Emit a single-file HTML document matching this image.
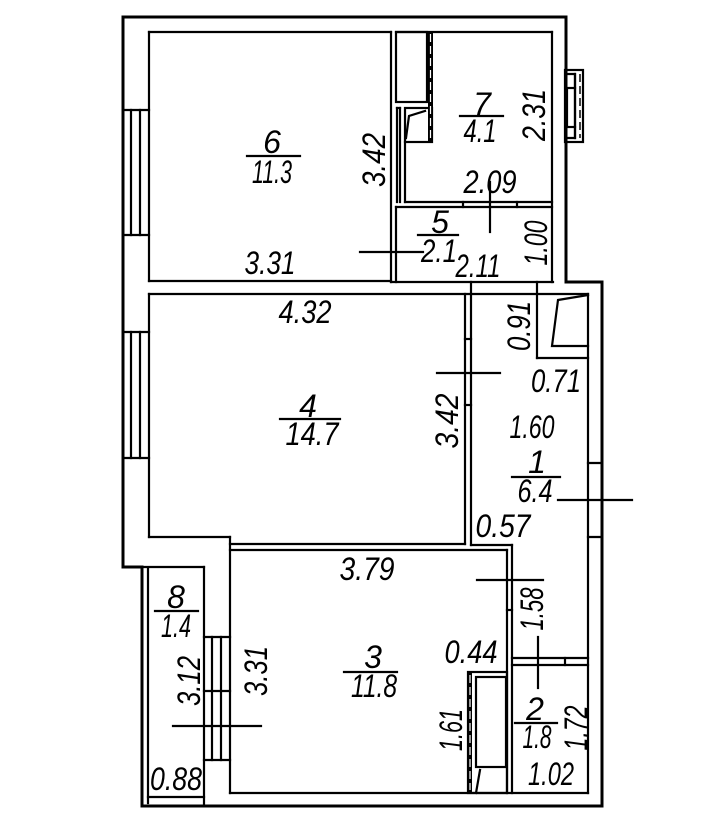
<!DOCTYPE html>
<html><head><meta charset="utf-8"><style>
html,body{margin:0;padding:0;background:#fff;}
svg{display:block;}
text{font-family:"Liberation Sans",sans-serif;font-style:italic;font-size:32px;fill:#000;}
</style></head><body>
<svg width="706" height="828" viewBox="0 0 706 828" xmlns="http://www.w3.org/2000/svg">
<rect width="706" height="828" fill="#fff"/>
<g stroke="#000" fill="none" stroke-width="3" stroke-linecap="square">
<polyline points="123,17 566,17 566,282 602,282 602,806 142,806 142,567 123,567 123,17"/>
</g>
<g stroke="#000" fill="none" stroke-width="2.2" stroke-linecap="square">
<line x1="149" y1="32" x2="391" y2="32"/>
<line x1="149" y1="32" x2="149" y2="281"/>
<line x1="149" y1="281" x2="391" y2="281"/>
<line x1="391" y1="32" x2="391" y2="282"/>
<line x1="131" y1="110" x2="131" y2="235"/><line x1="140" y1="110" x2="140" y2="235"/>
<line x1="123" y1="110" x2="149" y2="110"/><line x1="123" y1="235" x2="149" y2="235"/>
<line x1="131" y1="332" x2="131" y2="458"/><line x1="140" y1="332" x2="140" y2="458"/>
<line x1="123" y1="332" x2="149" y2="332"/><line x1="123" y1="458" x2="149" y2="458"/>
<line x1="396" y1="32" x2="552" y2="32"/>
<line x1="552" y1="32" x2="552" y2="282"/>
<rect x="396" y="32" width="31" height="70"/>
<line x1="397" y1="108" x2="397" y2="202"/>
<line x1="400" y1="108" x2="400" y2="202"/>
<line x1="397" y1="108" x2="400" y2="108"/>
<rect x="405" y="108" width="27" height="34"/>
<line x1="405" y1="142" x2="405" y2="202"/>
<polyline points="425,111 409,116 406,138"/>
<line x1="405" y1="202" x2="552" y2="202"/>
<line x1="396" y1="207" x2="552" y2="207"/>
<line x1="463" y1="202" x2="463" y2="207"/>
<line x1="517" y1="202" x2="517" y2="207"/>
<rect x="565" y="70" width="18" height="72"/>
<rect x="567" y="88" width="8" height="39"/>
<line x1="575" y1="74" x2="575" y2="138"/>
<polyline points="567,74 575,74 575,88"/>
<polyline points="567,138 575,138 575,127"/>
<line x1="396" y1="207" x2="396" y2="282"/>
<line x1="391" y1="282" x2="553" y2="282"/>
<line x1="149" y1="294" x2="588" y2="294"/>
<line x1="149" y1="294" x2="149" y2="537"/>
<line x1="149" y1="537" x2="230" y2="537"/>
<line x1="230" y1="537" x2="230" y2="793"/>
<line x1="230" y1="544" x2="465" y2="544"/>
<line x1="465" y1="294" x2="465" y2="544"/>
<line x1="471" y1="282" x2="471" y2="545"/>
<line x1="465" y1="339" x2="471" y2="339"/>
<line x1="465" y1="405" x2="471" y2="405"/>
<line x1="471" y1="545" x2="512" y2="545"/>
<line x1="230" y1="550" x2="507" y2="550"/>
<line x1="507" y1="550" x2="507" y2="793"/>
<line x1="512" y1="545" x2="512" y2="793"/>
<line x1="507" y1="610" x2="512" y2="610"/>
<line x1="230" y1="793" x2="588" y2="793"/>
<line x1="588" y1="294" x2="588" y2="793"/>
<line x1="537" y1="282" x2="537" y2="358"/>
<line x1="537" y1="358" x2="588" y2="358"/>
<polyline points="588,295 558,300 552,346 588,346"/>
<line x1="588" y1="463" x2="602" y2="463"/>
<line x1="588" y1="537" x2="602" y2="537"/>
<line x1="512" y1="658" x2="588" y2="658"/>
<line x1="512" y1="665" x2="588" y2="665"/>
<line x1="565" y1="658" x2="565" y2="665"/>
<rect x="468" y="672" width="39" height="121"/>
<rect x="476" y="677" width="30" height="90"/>
<line x1="480" y1="770" x2="476" y2="793"/>
<line x1="142" y1="567" x2="204" y2="567"/>
<line x1="204" y1="567" x2="204" y2="806"/>
<line x1="148" y1="568" x2="148" y2="803"/>
<line x1="148" y1="797" x2="204" y2="797"/>
<line x1="212" y1="637" x2="212" y2="760"/>
<line x1="221" y1="637" x2="221" y2="760"/>
<line x1="204" y1="637" x2="230" y2="637"/>
<line x1="204" y1="760" x2="230" y2="760"/>
<line x1="204" y1="691" x2="230" y2="691"/>
<line x1="360" y1="252" x2="423" y2="252"/>
<line x1="490" y1="182" x2="490" y2="232"/>
<line x1="437" y1="373" x2="500" y2="373"/>
<line x1="558" y1="500" x2="632" y2="500"/>
<line x1="477" y1="580" x2="543" y2="580"/>
<line x1="538" y1="637" x2="538" y2="688"/>
<line x1="173" y1="726" x2="261" y2="726"/>
<line x1="247" y1="156" x2="300" y2="156"/>
<line x1="460" y1="116" x2="503" y2="116"/>
<line x1="418" y1="235" x2="458" y2="235"/>
<line x1="512" y1="477" x2="560" y2="477"/>
<line x1="280" y1="419" x2="340" y2="419"/>
<line x1="155" y1="611" x2="198" y2="611"/>
<line x1="344" y1="672" x2="397" y2="672"/>
<line x1="515" y1="723" x2="557" y2="723"/>
</g>
<rect x="428" y="32" width="5" height="111" fill="#000"/>
<line x1="430.5" y1="34" x2="430.5" y2="140" stroke="#fff" stroke-width="1.2" stroke-dasharray="8,4"/>
<line x1="580" y1="74" x2="580" y2="138" stroke="#000" stroke-width="1.5" stroke-dasharray="8,4"/>
<rect x="468" y="672" width="4" height="121" fill="#000"/>
<line x1="470" y1="675" x2="470" y2="790" stroke="#fff" stroke-width="1.2" stroke-dasharray="8,4"/>
<text x="272" y="153" text-anchor="middle">6</text>
<text x="272" y="183" text-anchor="middle" textLength="40" lengthAdjust="spacingAndGlyphs">11.3</text>
<text x="270" y="274" text-anchor="middle" textLength="51" lengthAdjust="spacingAndGlyphs">3.31</text>
<text x="482" y="115" text-anchor="middle">7</text>
<text x="480" y="142" text-anchor="middle" textLength="33" lengthAdjust="spacingAndGlyphs">4.1</text>
<text x="490" y="193" text-anchor="middle" textLength="53" lengthAdjust="spacingAndGlyphs">2.09</text>
<text x="440" y="233" text-anchor="middle">5</text>
<text x="439" y="262" text-anchor="middle" textLength="36" lengthAdjust="spacingAndGlyphs">2.1</text>
<text x="478" y="277" text-anchor="middle" textLength="45" lengthAdjust="spacingAndGlyphs">2.11</text>
<text x="556" y="392" text-anchor="middle" textLength="50" lengthAdjust="spacingAndGlyphs">0.71</text>
<text x="532" y="438" text-anchor="middle" textLength="45" lengthAdjust="spacingAndGlyphs">1.60</text>
<text x="537" y="473" text-anchor="middle">1</text>
<text x="535" y="502" text-anchor="middle" textLength="35" lengthAdjust="spacingAndGlyphs">6.4</text>
<text x="503" y="537" text-anchor="middle" textLength="55" lengthAdjust="spacingAndGlyphs">0.57</text>
<text x="305" y="323" text-anchor="middle" textLength="53" lengthAdjust="spacingAndGlyphs">4.32</text>
<text x="308" y="417" text-anchor="middle">4</text>
<text x="312" y="445" text-anchor="middle" textLength="53" lengthAdjust="spacingAndGlyphs">14.7</text>
<text x="367" y="580" text-anchor="middle" textLength="55" lengthAdjust="spacingAndGlyphs">3.79</text>
<text x="176" y="608" text-anchor="middle">8</text>
<text x="176" y="637" text-anchor="middle" textLength="30" lengthAdjust="spacingAndGlyphs">1.4</text>
<text x="373" y="668" text-anchor="middle">3</text>
<text x="374" y="697" text-anchor="middle" textLength="46" lengthAdjust="spacingAndGlyphs">11.8</text>
<text x="176" y="790" text-anchor="middle" textLength="52" lengthAdjust="spacingAndGlyphs">0.88</text>
<text x="471" y="663" text-anchor="middle" textLength="53" lengthAdjust="spacingAndGlyphs">0.44</text>
<text x="535" y="720" text-anchor="middle">2</text>
<text x="537" y="748" text-anchor="middle" textLength="29" lengthAdjust="spacingAndGlyphs">1.8</text>
<text x="551" y="785" text-anchor="middle" textLength="46" lengthAdjust="spacingAndGlyphs">1.02</text>
<text transform="translate(385,160) rotate(-90)" text-anchor="middle" textLength="54" lengthAdjust="spacingAndGlyphs">3.42</text>
<text transform="translate(545,115) rotate(-90)" text-anchor="middle" textLength="52" lengthAdjust="spacingAndGlyphs">2.31</text>
<text transform="translate(547,243) rotate(-90)" text-anchor="middle" textLength="45" lengthAdjust="spacingAndGlyphs">1.00</text>
<text transform="translate(530,326) rotate(-90)" text-anchor="middle" textLength="50" lengthAdjust="spacingAndGlyphs">0.91</text>
<text transform="translate(458,421) rotate(-90)" text-anchor="middle" textLength="55" lengthAdjust="spacingAndGlyphs">3.42</text>
<text transform="translate(200,681) rotate(-90)" text-anchor="middle" textLength="50" lengthAdjust="spacingAndGlyphs">3.12</text>
<text transform="translate(267,671) rotate(-90)" text-anchor="middle" textLength="50" lengthAdjust="spacingAndGlyphs">3.31</text>
<text transform="translate(543,609) rotate(-90)" text-anchor="middle" textLength="43" lengthAdjust="spacingAndGlyphs">1.58</text>
<text transform="translate(462,730) rotate(-90)" text-anchor="middle" textLength="42" lengthAdjust="spacingAndGlyphs">1.61</text>
<text transform="translate(587,728) rotate(-90)" text-anchor="middle" textLength="45" lengthAdjust="spacingAndGlyphs">1.72</text>
</svg>
</body></html>
